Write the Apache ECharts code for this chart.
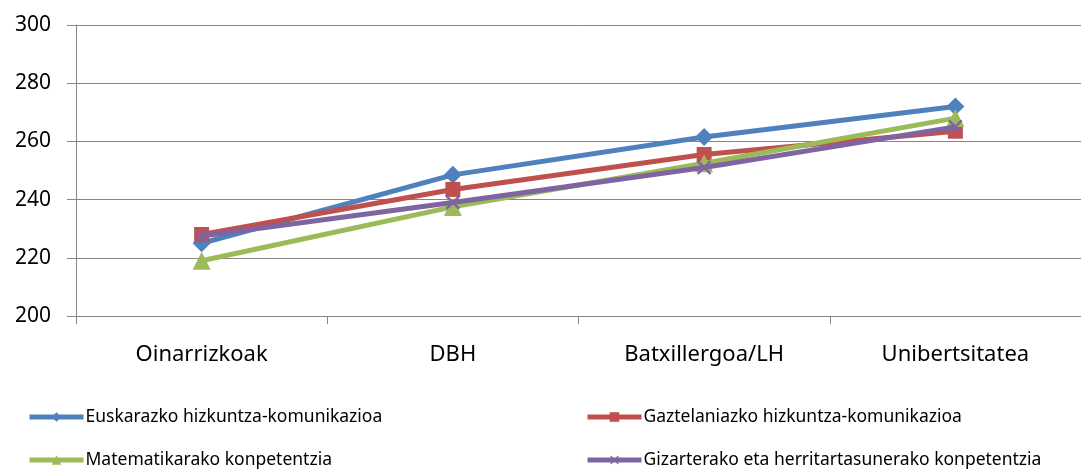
<!DOCTYPE html>
<html>
<head>
<meta charset="utf-8">
<script src="https://cdn.jsdelivr.net/npm/echarts@6/dist/echarts.min.js"></script>
<style>html,body{margin:0;padding:0;background:#fff}#c{width:1081px;height:469px}</style>
</head>
<body>
<div id="c"></div>
<script>
const categories = ['Oinarrizkoak', 'DBH', 'Batxillergoa/LH', 'Unibertsitatea'];
const seriesNames = [
  'Euskarazko hizkuntza-komunikazioa',
  'Gaztelaniazko hizkuntza-komunikazioa',
  'Matematikarako konpetentzia',
  'Gizarterako eta herritartasunerako konpetentzia'
];
const euskara = [225, 248.5, 261.5, 272];
const gaztelania = [228, 243.5, 255.5, 263.5];
const matematika = [219, 237.5, 252.5, 268];
const gizartea = [227.5, 239, 251, 265];
const yTicks = [200, 220, 240, 260, 280, 300];

const colors = ['#4F81BD', '#C0504D', '#9BBB59', '#8064A2'];
const xSvg = 'image://data:image/svg+xml;utf8,' + encodeURIComponent('<svg xmlns="http://www.w3.org/2000/svg" width="20" height="20"><path d="M2 2 L18 18 M18 2 L2 18" stroke="#8064A2" stroke-width="3"/></svg>');
const symbols = ['diamond', 'rect', 'triangle', xSvg];
const symbolSizes = [18, 15, 18, 16];
const dataSets = [euskara, gaztelania, matematika, gizartea];
const font = '"Noto Sans", "Open Sans", sans-serif';

const legendPos = [[27, 408], [585, 408], [27, 451], [585, 451]];

const chart = echarts.init(document.getElementById('c'), null, {renderer: 'canvas'});
chart.setOption({
  animation: false,
  backgroundColor: '#fff',
  grid: {left: 76, top: 25, right: -7, bottom: 153},
  xAxis: {
    type: 'category',
    data: categories,
    boundaryGap: true,
    axisLine: {lineStyle: {color: '#868686', width: 1}},
    axisTick: {show: true, length: 8, lineStyle: {color: '#868686'}},
    axisLabel: {color: '#000', fontSize: 22, fontFamily: font, margin: 28}
  },
  yAxis: {
    type: 'value',
    min: yTicks[0], max: yTicks[yTicks.length - 1], interval: 20,
    axisLine: {show: true, lineStyle: {color: '#868686', width: 1}},
    axisTick: {show: true, length: 9, lineStyle: {color: '#868686'}},
    splitLine: {lineStyle: {color: '#868686', width: 1}},
    axisLabel: {color: '#000', fontSize: 21, fontFamily: font, margin: 25}
  },
  legend: seriesNames.map((n, i) => ({
    data: [n],
    left: legendPos[i][0], top: legendPos[i][1],
    padding: 0,
    itemWidth: 54, itemHeight: 12,
    lineStyle: {width: 5},
    textStyle: {fontSize: 17.5, fontFamily: font, color: '#000', padding: [0, 0, 0, -3]}
  })),
  series: seriesNames.map((n, i) => ({
    name: n,
    type: 'line',
    data: dataSets[i],
    symbol: symbols[i],
    symbolSize: symbolSizes[i],
    showAllSymbol: true,
    lineStyle: {color: colors[i], width: 5},
    itemStyle: {color: colors[i], borderWidth: 0},
    z: 2 + i
  }))
});
</script>
</body>
</html>
